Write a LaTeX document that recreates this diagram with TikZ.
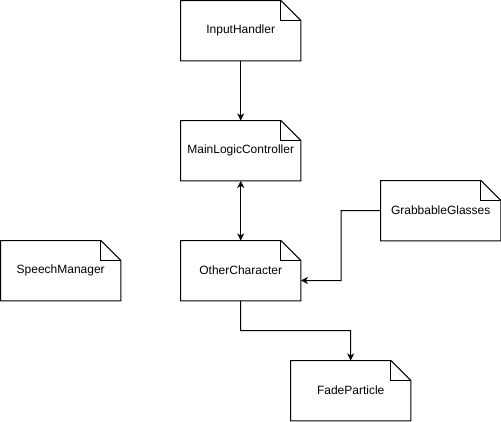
\documentclass[tikz,border=0pt]{standalone}
\usepackage{fontspec}
\setmainfont{Liberation Sans}
\usetikzlibrary{arrows.meta}
\tikzset{
  notebox/.style={minimum width=120pt, minimum height=60pt, inner sep=0pt, font=\fontsize{12}{14}\selectfont, anchor=north west},
  conn/.style={line width=1pt, -{Stealth[length=7pt,width=7pt,inset=2pt]}},
  biconn/.style={line width=1pt, {Stealth[length=7pt,width=7pt,inset=2pt]}-{Stealth[length=7pt,width=7pt,inset=2pt]}},
  outline/.style={line width=1pt, line join=miter}
}
\newcommand\noteoutline[1]{%
  \draw[outline] (#1.north west) -- ([xshift=-20pt]#1.north east) -- ([yshift=-20pt]#1.north east) -- (#1.south east) -- (#1.south west) -- cycle;
  \draw[outline] ([xshift=-20pt]#1.north east) -- ([xshift=-20pt,yshift=-20pt]#1.north east) -- ([yshift=-20pt]#1.north east);
}
\begin{document}
\begin{tikzpicture}[x=1pt,y=-1pt]
\useasboundingbox (0,0) rectangle (501,421);
\fill[white] (0,0) rectangle (501,421);
\node[notebox] (ih) at (180.5,0.5) {InputHandler};
\node[notebox] (mlc) at (180.5,120.5) {MainLogicController};
\node[notebox] (oc) at (180.5,240.5) {OtherCharacter};
\node[notebox] (gg) at (380.5,180.5) {GrabbableGlasses};
\node[notebox] (sm) at (0.5,240.5) {SpeechManager};
\node[notebox] (fp) at (290.5,360.5) {FadeParticle};
\foreach \n in {ih,mlc,oc,gg,sm,fp}{\noteoutline{\n}}
\draw[conn] (ih.south) -- (mlc.north);
\draw[biconn] (mlc.south) -- (oc.north);
\draw[conn] (gg.west) -- (341,210.5) -- (341,280.5) -- (oc.east |- 0,280.5);
\coordinate (ocb) at (oc.south);
\draw[conn] (oc.south) -- (240.5,330.5) -- (350.5,330.5) -- (fp.north);
\end{tikzpicture}
\end{document}
